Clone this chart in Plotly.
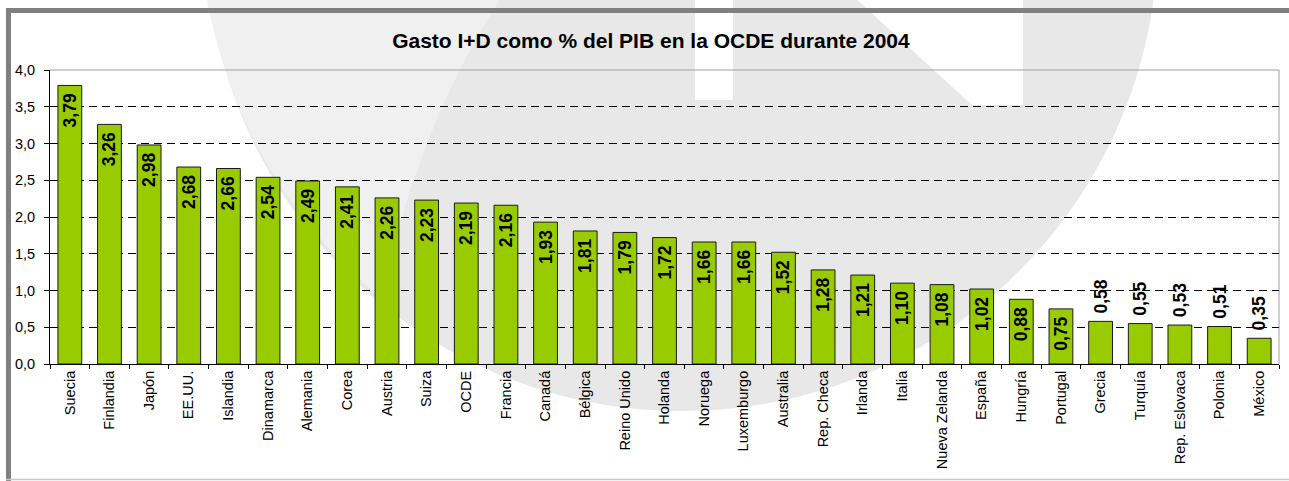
"""Gasto I+D como % del PIB en la OCDE, 2004 - bar chart."""

import plotly.graph_objects as go

paises = ["Suecia", "Finlandia", "Japón", "EE.UU.", "Islandia", "Dinamarca",
          "Alemania", "Corea", "Austria", "Suiza", "OCDE", "Francia",
          "Canadá", "Bélgica", "Reino Unido", "Holanda", "Noruega",
          "Luxemburgo", "Australia", "Rep. Checa", "Irlanda", "Italia",
          "Nueva Zelanda", "España", "Hungría", "Portugal", "Grecia",
          "Turquía", "Rep. Eslovaca", "Polonia", "México"]
gasto_pib = [3.79, 3.26, 2.98, 2.68, 2.66, 2.54, 2.49, 2.41, 2.26, 2.23,
             2.19, 2.16, 1.93, 1.81, 1.79, 1.72, 1.66, 1.66, 1.52, 1.28,
             1.21, 1.10, 1.08, 1.02, 0.88, 0.75, 0.58, 0.55, 0.53, 0.51,
             0.35]
y_ticks = [0.0, 0.5, 1.0, 1.5, 2.0, 2.5, 3.0, 3.5, 4.0]

W, H = 1289, 481
M_L, M_R, M_T, M_B = 50, 10, 70, 117
PW, PH = W - M_L - M_R, H - M_T - M_B


def px(x):
    # pixel -> paper x
    return (x - M_L) / PW


def py(y):
    # pixel -> paper y
    return (H - M_B - y) / PH


def pt(x, y):
    return f"{px(x):.5f},{py(y):.5f}"


def circle_path(cx, cy, r):
    k = 0.5523 * r
    return (f"M {pt(cx + r, cy)} "
            f"C {pt(cx + r, cy + k)} {pt(cx + k, cy + r)} {pt(cx, cy + r)} "
            f"C {pt(cx - k, cy + r)} {pt(cx - r, cy + k)} {pt(cx - r, cy)} "
            f"C {pt(cx - r, cy - k)} {pt(cx - k, cy - r)} {pt(cx, cy - r)} "
            f"C {pt(cx + k, cy - r)} {pt(cx + r, cy - k)} {pt(cx + r, cy)} Z")


# labels that don't fit go above the bar
pos = ["inside" if v >= 0.7 else "outside" for v in gasto_pib]
# nbsp used as padding between label and bar top
tmpl = ["%{y:.2f}\u00a0" if p == "inside" else "\u00a0%{y:.2f}" for p in pos]

fig = go.Figure()
fig.add_trace(go.Bar(
    x=paises, y=gasto_pib,
    marker=dict(color="#99CC00", line=dict(color="#1a1a1a", width=1)),
    texttemplate=tmpl, textposition=pos, textangle=-90,
    insidetextanchor="end", constraintext="none", cliponaxis=False,
    textfont=dict(family="Liberation Sans", size=17.5, color="black",
                  weight="bold"),
    hoverinfo="x+y",
))

wm = "#e8e8e8"
shapes = [
    # watermark
    dict(type="path", xref="paper", yref="paper", layer="below",
         path=circle_path(682, -65, 476),
         fillcolor=wm, line=dict(width=0)),
    dict(type="path", xref="paper", yref="paper", layer="below",
         path=f"M {pt(206, -5)} L {pt(503, -5)} "
              f"Q {pt(420, 120)} {pt(381, 298)} "
              f"Q {pt(240, 180)} {pt(206, -5)} Z",
         fillcolor="#f0f0f0", line=dict(width=0)),
    dict(type="rect", xref="paper", yref="paper", layer="below",
         x0=px(695), x1=px(733), y0=py(100), y1=py(-5),
         fillcolor="white", line=dict(width=0)),
    dict(type="path", xref="paper", yref="paper", layer="below",
         path=f"M {pt(852, -5)} L {pt(1023, -5)} "
              f"L {pt(1023, 105)} L {pt(972, 105)} Z",
         fillcolor="white", line=dict(width=0)),
    # frame
    dict(type="rect", xref="paper", yref="paper", layer="below",
         x0=px(6), x1=px(1295), y0=py(13), y1=py(8),
         fillcolor="#808080", line=dict(width=0)),
    dict(type="rect", xref="paper", yref="paper", layer="below",
         x0=px(6), x1=px(11), y0=py(481), y1=py(8),
         fillcolor="#808080", line=dict(width=0)),
    dict(type="line", xref="paper", yref="paper", layer="below",
         x0=px(6), x1=px(1295), y0=py(479.5), y1=py(479.5),
         line=dict(color="#c8c8c8", width=1.5)),
    # plot area border (top / right)
    dict(type="line", xref="paper", yref="paper", layer="below",
         x0=0, x1=1, y0=1, y1=1, line=dict(color="#a0a0a0", width=1)),
    dict(type="line", xref="paper", yref="paper", layer="below",
         x0=1, x1=1, y0=0, y1=1, line=dict(color="#a0a0a0", width=1)),
]

fig.update_layout(
    width=W, height=H,
    margin=dict(l=M_L, r=M_R, t=M_T, b=M_B, pad=0),
    separators=",.",
    paper_bgcolor="white", plot_bgcolor="rgba(0,0,0,0)",
    font=dict(family="Liberation Sans", color="black"),
    title=dict(text="Gasto I+D como % del PIB en la OCDE durante 2004",
               x=0.505, xanchor="center", y=1 - 41 / H, yanchor="middle",
               font=dict(size=21, weight="bold", color="black")),
    bargap=0.4, showlegend=False,
    shapes=shapes,
    xaxis=dict(showline=True, linecolor="black", linewidth=1,
               ticks="outside", tickson="boundaries", ticklen=4,
               tickcolor="black", tickangle=-90, tickfont=dict(size=14.5),
               showgrid=False),
    yaxis=dict(range=[0, 4], tickvals=y_ticks, tickformat=".1f",
               showline=True, linecolor="black", linewidth=1,
               ticks="outside", ticklen=5, tickcolor="black",
               tickfont=dict(size=14.5), ticklabelstandoff=6,
               zeroline=False,
               showgrid=True, gridcolor="black", gridwidth=1,
               griddash="8px,5px"),
)

fig.write_html("out.html", config={"displayModeBar": False},
               post_script="document.body.style.margin='0';")
